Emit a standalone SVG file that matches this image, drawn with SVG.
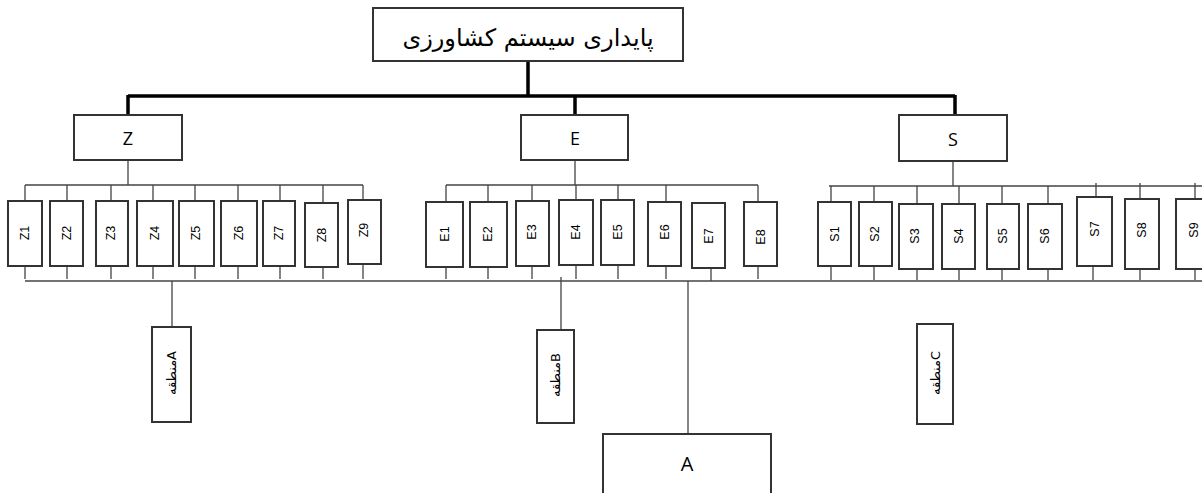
<svg xmlns="http://www.w3.org/2000/svg" width="1202" height="493" viewBox="0 0 1202 493">
<style>
.box{fill:#fff;stroke:#333;stroke-width:2}
.thick{stroke:#000;stroke-width:3.5;fill:none}
.thin{stroke:#444;stroke-width:1.3;fill:none}
.lbl{font-family:"Liberation Sans","DejaVu Sans",sans-serif;font-size:12.5px;fill:#000;text-anchor:middle;dominant-baseline:central}
.cat{font-family:"Open Sans","Liberation Sans",sans-serif;font-size:18px;fill:#000;text-anchor:middle;dominant-baseline:central}
.ar{font-family:"DejaVu Sans",sans-serif;font-size:13px;fill:#000;text-anchor:middle;dominant-baseline:central}
</style>
<g id="connectors">
<path class="thick" d="M528 62V96M128 96H955M128 95V116M575 95V116M955 95V116"/>
<path class="thin" d="M128 160V185M25 185H363M25 185V201M67 185V201M111 185V201M153 185V201M195 185V201M238 185V201M280 185V201M323 185V203M363 185V200"/>
<path class="thin" d="M25 266V279M67 266V279M111 266V279M153 266V279M195 266V279M238 266V279M280 266V279M323 267V279M363 264V279"/>
<path class="thin" d="M575 160V185M446 185H758M446 185V202M488 185V202M532 185V201M576 185V200M618 185V200M666 185V202M758 185V202"/>
<path class="thin" d="M446 267V279M488 267V279M532 266V279M576 265V279M618 265V279M666 266V279M711 268V281M758 266V279"/>
<path class="thin" d="M953 161V186M829 186H1202M831 186V202M874 186V202M917 186V204M959 186V204M1002 186V204M1048 186V204M1096 183V197M1140 183V199M1195 183V199"/>
<path class="thin" d="M831 266V280M874 266V280M917 269V280M959 269V280M1002 269V280M1048 269V280M1093 266V280M1140 269V280M1195 269V280"/>
<path class="thin" d="M25 281H1202"/>
<path class="thin" d="M172 281V327M561 277V330M688 281V434"/>
</g>
<g id="title"><rect class="box" x="373" y="8" width="310" height="53"/><text x="528" y="38" style="font-family:'DejaVu Sans',sans-serif;font-size:24px;text-anchor:middle;dominant-baseline:central">پایداری سیستم کشاورزی</text></g>
<g id="Z"><rect class="box" x="74" y="115" width="108" height="45"/><text class="cat" x="128" y="138">Z</text></g>
<g id="E"><rect class="box" x="521" y="115" width="107" height="45"/><text class="cat" x="575" y="138">E</text></g>
<g id="S"><rect class="box" x="899" y="115" width="108" height="46"/><text class="cat" x="953" y="139">S</text></g>
<g id="Z1"><rect class="box" x="8" y="201" width="34" height="65"/><text class="lbl" transform="translate(25 233) rotate(-90)">Z1</text></g>
<g id="Z2"><rect class="box" x="50" y="201" width="33" height="65"/><text class="lbl" transform="translate(67 233) rotate(-90)">Z2</text></g>
<g id="Z3"><rect class="box" x="96" y="201" width="32" height="65"/><text class="lbl" transform="translate(111 233) rotate(-90)">Z3</text></g>
<g id="Z4"><rect class="box" x="137" y="201" width="36" height="65"/><text class="lbl" transform="translate(155 233) rotate(-90)">Z4</text></g>
<g id="Z5"><rect class="box" x="179" y="201" width="35" height="65"/><text class="lbl" transform="translate(196 233) rotate(-90)">Z5</text></g>
<g id="Z6"><rect class="box" x="221" y="201" width="36" height="65"/><text class="lbl" transform="translate(239 233) rotate(-90)">Z6</text></g>
<g id="Z7"><rect class="box" x="263" y="201" width="32" height="65"/><text class="lbl" transform="translate(279 233) rotate(-90)">Z7</text></g>
<g id="Z8"><rect class="box" x="305" y="203" width="33" height="64"/><text class="lbl" transform="translate(322 235) rotate(-90)">Z8</text></g>
<g id="Z9"><rect class="box" x="348" y="200" width="33" height="64"/><text class="lbl" transform="translate(364 230) rotate(-90)">Z9</text></g>
<g id="E1"><rect class="box" x="426" y="202" width="37" height="65"/><text class="lbl" transform="translate(445 234) rotate(-90)">E1</text></g>
<g id="E2"><rect class="box" x="470" y="202" width="37" height="65"/><text class="lbl" transform="translate(488 234) rotate(-90)">E2</text></g>
<g id="E3"><rect class="box" x="516" y="201" width="33" height="65"/><text class="lbl" transform="translate(532 232) rotate(-90)">E3</text></g>
<g id="E4"><rect class="box" x="559" y="200" width="34" height="65"/><text class="lbl" transform="translate(576 232) rotate(-90)">E4</text></g>
<g id="E5"><rect class="box" x="601" y="200" width="33" height="65"/><text class="lbl" transform="translate(618 232) rotate(-90)">E5</text></g>
<g id="E6"><rect class="box" x="648" y="202" width="33" height="64"/><text class="lbl" transform="translate(665 232) rotate(-90)">E6</text></g>
<g id="E7"><rect class="box" x="692" y="203" width="33" height="65"/><text class="lbl" transform="translate(709 236) rotate(-90)">E7</text></g>
<g id="E8"><rect class="box" x="744" y="202" width="33" height="64"/><text class="lbl" transform="translate(761 237) rotate(-90)">E8</text></g>
<g id="S1"><rect class="box" x="818" y="202" width="33" height="64"/><text class="lbl" transform="translate(835 234) rotate(-90)">S1</text></g>
<g id="S2"><rect class="box" x="859" y="202" width="33" height="64"/><text class="lbl" transform="translate(875 234) rotate(-90)">S2</text></g>
<g id="S3"><rect class="box" x="899" y="204" width="34" height="65"/><text class="lbl" transform="translate(915 236) rotate(-90)">S3</text></g>
<g id="S4"><rect class="box" x="942" y="204" width="33" height="65"/><text class="lbl" transform="translate(959 236) rotate(-90)">S4</text></g>
<g id="S5"><rect class="box" x="987" y="204" width="32" height="65"/><text class="lbl" transform="translate(1003 236) rotate(-90)">S5</text></g>
<g id="S6"><rect class="box" x="1028" y="204" width="34" height="65"/><text class="lbl" transform="translate(1045 236) rotate(-90)">S6</text></g>
<g id="S7"><rect class="box" x="1077" y="197" width="35" height="69"/><text class="lbl" transform="translate(1095 229) rotate(-90)">S7</text></g>
<g id="S8"><rect class="box" x="1125" y="199" width="34" height="70"/><text class="lbl" transform="translate(1142 230) rotate(-90)">S8</text></g>
<g id="S9"><rect class="box" x="1176" y="199" width="34" height="70"/><text class="lbl" transform="translate(1194 230) rotate(-90)">S9</text></g>
<g id="zoneA"><rect class="box" x="152" y="327" width="39" height="95"/><text class="ar" transform="translate(171 373) rotate(-90)">منطقهA</text></g>
<g id="zoneB"><rect class="box" x="537" y="330" width="37" height="93"/><text class="ar" transform="translate(555 375) rotate(-90)">منطقهB</text></g>
<g id="zoneC"><rect class="box" x="917" y="324" width="36" height="100"/><text class="ar" transform="translate(935 373) rotate(-90)">منطقهC</text></g>
<g id="A"><rect class="box" x="603" y="434" width="168" height="70"/><text class="cat" x="687" y="463" style="font-size:20px">A</text></g>
</svg>
